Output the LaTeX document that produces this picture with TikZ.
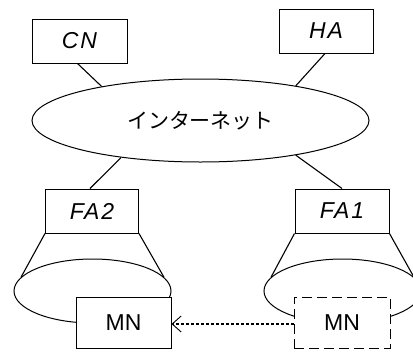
\documentclass[tikz,border=0pt]{standalone}
\usepackage{fontspec}
\setmainfont{Liberation Sans}
\newfontfamily\jpfont{Noto Sans CJK JP}
\newfontfamily\labfont[LetterSpace=8]{Liberation Sans}
\usetikzlibrary{shapes.geometric,arrows.meta}
\begin{document}
\begin{tikzpicture}[x=1pt,y=-1pt,line width=1pt,
  lblbox/.style={draw,rectangle,fill=white,inner sep=0pt,minimum height=44pt,
    font=\fontsize{23}{25}\selectfont\labfont\itshape},
  mnbox/.style={draw,rectangle,fill=white,inner sep=0pt,minimum width=95pt,minimum height=51pt,
    font=\fontsize{23}{25}\selectfont},
  cell/.style={draw,ellipse,inner sep=0pt,minimum width=157pt,minimum height=64pt},
  link/.style={draw,line width=1.1pt},
  move/.style={draw,line width=1.1pt,dash pattern=on 3pt off 2pt,
    -{Straight Barb[length=9pt,width=16pt,line width=0.9pt]}}]
\useasboundingbox (0,0) rectangle (413,354);
% internet
\node[draw,ellipse,inner sep=0pt,minimum width=337pt,minimum height=83pt,
  font=\fontsize{21}{24}\selectfont\jpfont] (net) at (200.5,120.5) {インターネット};
% top boxes
\node[lblbox,minimum width=95pt] (CN) at (79.5,41) {CN};
\node[lblbox,minimum width=94pt] (HA) at (326,31) {HA};
% FA boxes
\node[lblbox,minimum width=93pt] (FA2) at (92,211) {FA2};
\node[lblbox,minimum width=94pt] (FA1) at (342,211) {FA1};
% connectors to internet
\draw[link] ([xshift=-2pt]CN.south) -- (net.161);
\draw[link] ([xshift=-1pt]HA.south) -- (net.20);
\draw[link] (net.205.5) -- ([xshift=-2pt]FA2.north);
\draw[link] (net.340.5) -- (FA1.north);
% cells
\node[cell] (cellL) at (92.5,291) {};
\node[cell] (cellR) at (342.5,291) {};
\draw[link] (FA2.south west) -- (cellL.169);
\draw[link] (FA2.south east) -- (cellL.11);
\draw[link] (FA1.south west) -- (cellR.169);
\draw[link] (FA1.south east) -- (cellR.11);
% mobile nodes
\node[mnbox] (MNL) at (123.5,322.5) {MN};
\node[mnbox,dash pattern=on 10pt off 5pt,minimum width=96pt] (MNR) at (342,322.5) {MN};
% movement
\path (MNR.west) ++(0,1.5) coordinate (mstart);
\draw[move] (mstart) -- (mstart -| MNL.east);
\end{tikzpicture}
\end{document}
